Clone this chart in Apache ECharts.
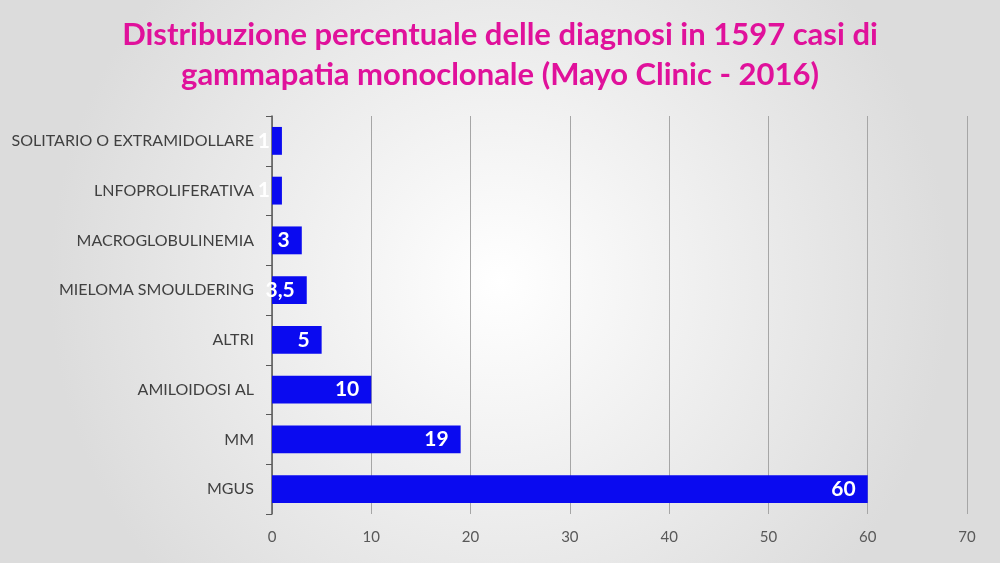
<!DOCTYPE html>
<html>
<head>
<meta charset="utf-8">
<script src="https://cdn.jsdelivr.net/npm/echarts@6/dist/echarts.min.js"></script>
<style>html,body{margin:0;padding:0;}#main{width:1000px;height:563px;}</style>
</head>
<body>
<div id="main"></div>
<script>
var categories = ['MGUS', 'MM', 'AMILOIDOSI AL', 'ALTRI', 'MIELOMA SMOULDERING', 'MACROGLOBULINEMIA', 'LNFOPROLIFERATIVA', 'SOLITARIO O EXTRAMIDOLLARE'];
var values = [60, 19, 10, 5, 3.5, 3, 1, 1];
var xTicks = [0, 10, 20, 30, 40, 50, 60, 70];

var myChart = echarts.init(document.getElementById('main'));
var option = {
    backgroundColor: {
        type: 'radial', x: 0.5, y: 0.5, r: 0.8,
        colorStops: [{offset: 0, color: '#ffffff'}, {offset: 1, color: '#dcdcdc'}]
    },
    title: {
        text: 'Distribuzione percentuale delle diagnosi in 1597 casi di\ngammapatia monoclonale (Mayo Clinic - 2016)',
        left: 'center',
        top: 10,
        textStyle: {color: '#e0119b', fontSize: 31, fontWeight: 'bold', fontFamily: 'Lato', lineHeight: 40}
    },
    grid: {left: 272, right: 33, top: 116, bottom: 49},
    xAxis: {
        type: 'value',
        min: 0, max: 70, interval: 10,
        axisLine: {show: false},
        axisTick: {show: false},
        axisLabel: {color: '#595959', fontSize: 15, fontFamily: 'Lato', margin: 16},
        splitLine: {lineStyle: {color: '#a6a6a6', width: 1}}
    },
    yAxis: {
        type: 'category',
        data: categories,
        axisLine: {lineStyle: {color: '#595959', width: 1.5}},
        axisTick: {show: true, length: 6, lineStyle: {color: '#595959'}},
        axisLabel: {color: '#404040', fontSize: 16, fontFamily: 'Lato', margin: 18}
    },
    series: [{
        type: 'bar',
        data: values,
        barWidth: '56%',
        itemStyle: {color: '#0a0af0'},
        label: {
            show: true,
            position: 'insideRight',
            distance: 12,
            color: '#ffffff',
            fontSize: 21,
            fontWeight: 'bold',
            fontFamily: 'Lato',
            formatter: function (p) { return String(p.value).replace('.', ','); }
        }
    }]
};
myChart.setOption(option);
</script>
</body>
</html>
